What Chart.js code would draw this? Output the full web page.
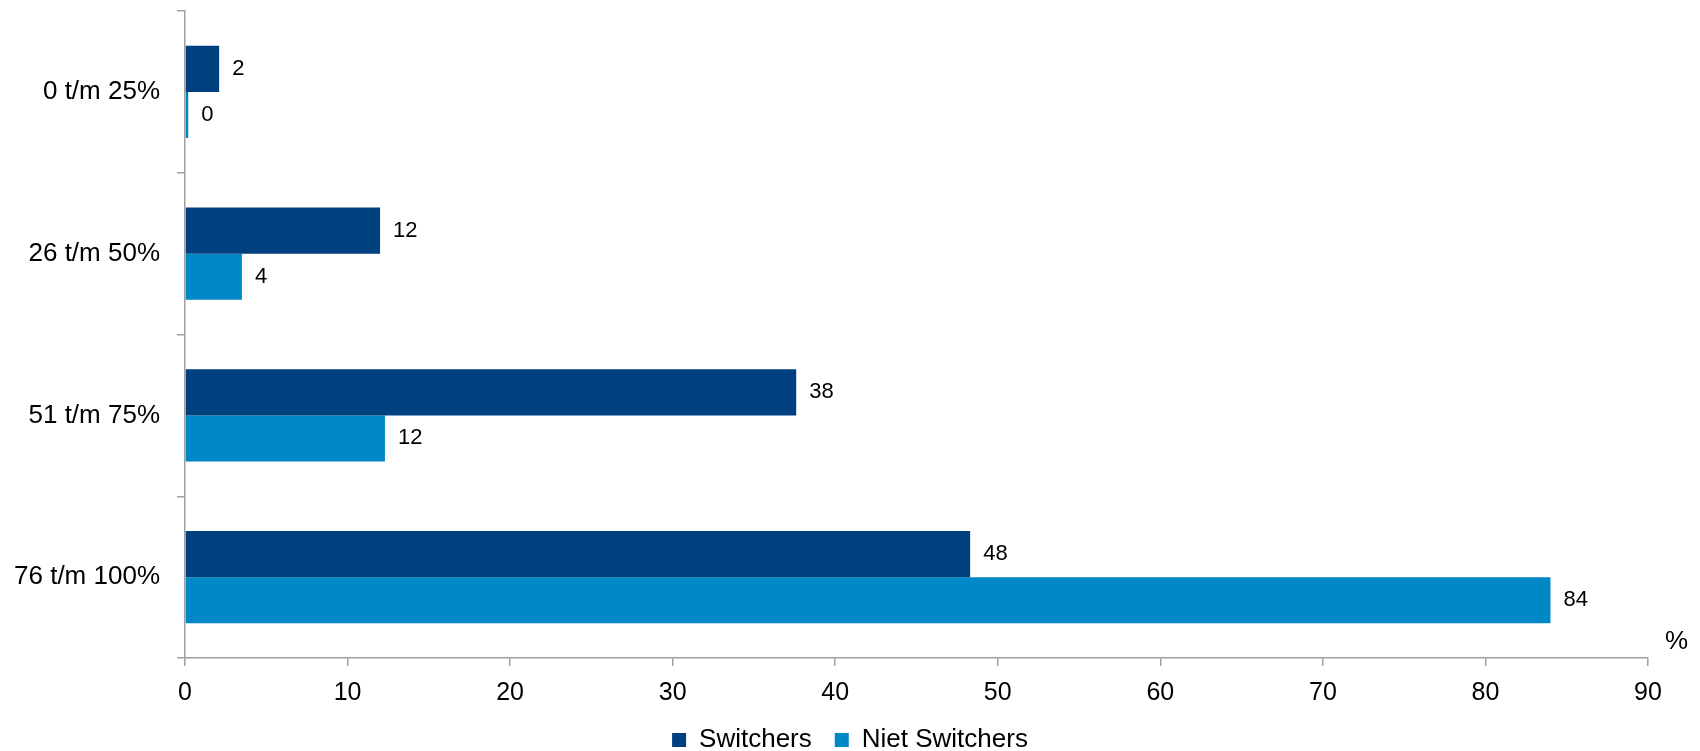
<!DOCTYPE html>
<html>
<head>
<meta charset="utf-8">
<script src="https://cdn.jsdelivr.net/npm/chart.js@4.4.0/dist/chart.umd.min.js"></script>
<style>
  html, body { margin: 0; padding: 0; background: #fff; }
</style>
</head>
<body>
<canvas id="myChart" width="1700" height="751"></canvas>
<script>
const categories = ['0 t/m 25%', '26 t/m 50%', '51 t/m 75%', '76 t/m 100%'];
const switchers = [2.1, 12, 37.6, 48.3];
const nietSwitchers = [0.2, 3.5, 12.3, 84];
const xTicks = [0, 10, 20, 30, 40, 50, 60, 70, 80, 90];

const FONT = '"Liberation Sans", Arial, sans-serif';
const AXIS_GREY = '#a0a0a0';

// value labels at the end of each bar
const valueLabels = {
  id: 'valueLabels',
  afterDatasetsDraw(chart) {
    const ctx = chart.ctx;
    ctx.save();
    ctx.font = '22px ' + FONT;
    ctx.fillStyle = '#000';
    ctx.textAlign = 'left';
    ctx.textBaseline = 'middle';
    chart.data.datasets.forEach((ds, i) => {
      chart.getDatasetMeta(i).data.forEach((bar, j) => {
        ctx.fillText(String(Math.round(ds.data[j])), bar.x + 13, bar.y);
      });
    });
    ctx.restore();
  }
};

// the "%" unit next to the end of the x axis
const unitLabel = {
  id: 'unitLabel',
  afterDraw(chart) {
    const ctx = chart.ctx;
    const area = chart.chartArea;
    ctx.save();
    ctx.font = '26px ' + FONT;
    ctx.fillStyle = '#000';
    ctx.textAlign = 'left';
    ctx.textBaseline = 'middle';
    ctx.fillText('%', area.right + 17, area.bottom - 16);
    ctx.restore();
  }
};

new Chart(document.getElementById('myChart'), {
  type: 'bar',
  data: {
    labels: categories,
    datasets: [
      { label: 'Switchers', data: switchers, backgroundColor: '#00407f' },
      { label: 'Niet Switchers', data: nietSwitchers, backgroundColor: '#0087c6' },
    ],
  },
  options: {
    indexAxis: 'y',
    responsive: false,
    animation: false,
    categoryPercentage: 0.57,
    barPercentage: 1,
    // legend is pushed a little past the bottom so its text sits low like the original
    layout: { padding: { top: 11, right: 0, left: 0, bottom: -12 } },
    plugins: {
      tooltip: { enabled: false },
      legend: {
        position: 'bottom',
        labels: {
          boxWidth: 14,
          boxHeight: 14,
          padding: 23,
          color: '#000',
          font: { family: FONT, size: 26 },
        },
      },
    },
    scales: {
      x: {
        min: 0,
        max: 90,
        afterBuildTicks: (scale) => { scale.ticks = xTicks.map(v => ({ value: v })); },
        afterFit: (scale) => { scale.height = 46; scale.paddingRight = 52; },
        ticks: { color: '#000', padding: 12, font: { family: FONT, size: 25 } },
        grid: { drawOnChartArea: false, color: AXIS_GREY, lineWidth: 1.5, tickLength: 8 },
        border: { color: AXIS_GREY, width: 1.5 },
      },
      y: {
        afterFit: (scale) => { scale.width = 185; scale.paddingTop = 0; scale.paddingBottom = 0; },
        ticks: { color: '#000', padding: 17, font: { family: FONT, size: 26 } },
        grid: { drawOnChartArea: false, color: AXIS_GREY, lineWidth: 1.5, tickLength: 8 },
        border: { color: AXIS_GREY, width: 1.5 },
      },
    },
  },
  plugins: [valueLabels, unitLabel],
});
</script>
</body>
</html>
